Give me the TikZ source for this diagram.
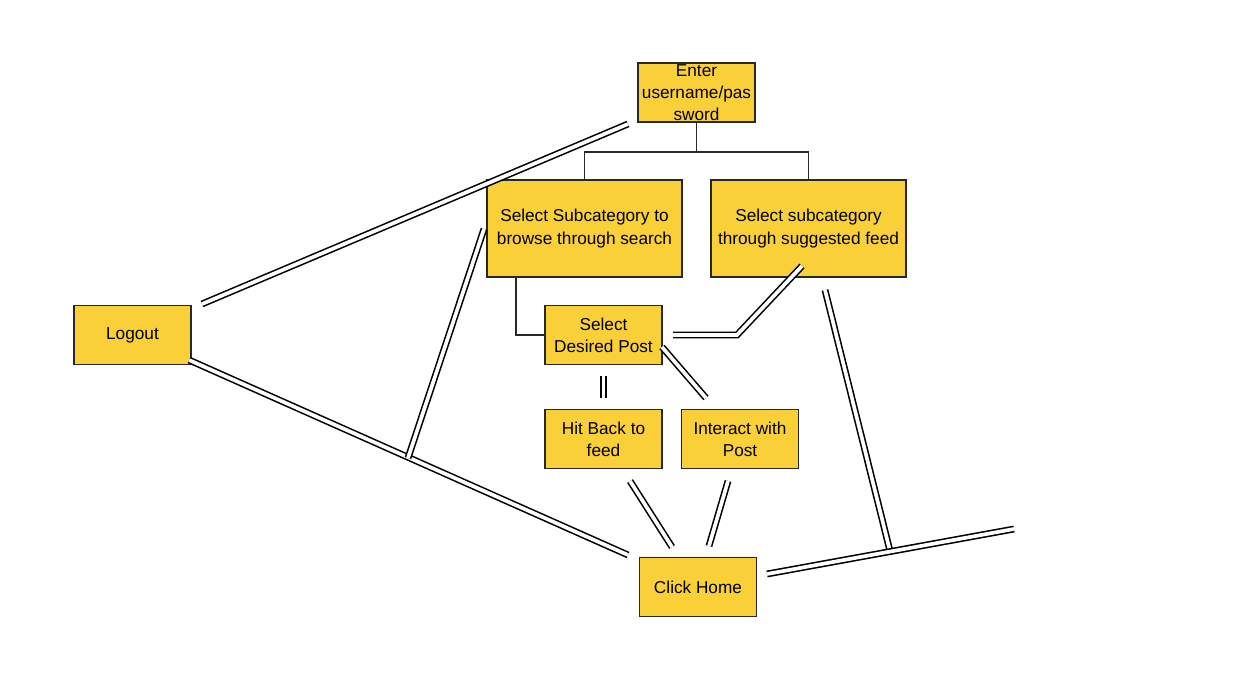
\documentclass[tikz,border=0pt]{standalone}
\usepackage{fontspec}
\setmainfont{Liberation Sans}
\definecolor{boxfill}{RGB}{249,208,56}
\definecolor{boxline}{RGB}{40,40,40}

\begin{document}
\begin{tikzpicture}[x=0.02cm, y=-0.02cm,
  font=\fontsize{9.8}{12.6}\selectfont,
  stepbox/.style={draw=boxline, fill=boxfill, line width=0.85pt,
                  align=center, inner sep=0pt},
  tree/.style={draw=boxline, line width=0.9pt},
  dbl/.style={draw=black, line width=0.9pt, double=white, double distance=2.1pt}]

% Picture size (pixel grid of the reference)
\useasboundingbox (0,0) rectangle (1245,682);

% Sizes of the boxes
\def \wS{ 117*0.02cm } % small boxes
\def \hS{  59*0.02cm }
\def \wL{ 195*0.02cm } % large boxes
\def \hL{  97*0.02cm }

% The boxes
\node[stepbox, minimum width=\wS, minimum height=\hS] (enter) at (696.5,92.5)
  {Enter\\username/pas\\sword};
\node[stepbox, minimum width=\wL, minimum height=\hL] (search) at (584.5,228.5)
  {Select Subcategory to\\browse through search};
\node[stepbox, minimum width=\wL, minimum height=\hL] (feed) at (808.5,228.5)
  {Select subcategory\\through suggested feed};
\node[stepbox, minimum width=\wS, minimum height=\hS] (logout) at (132.5,335)
  {Logout};
\node[stepbox, minimum width=\wS, minimum height=\hS] (post) at (603.5,335)
  {Select\\Desired Post};
\node[stepbox, minimum width=\wS, minimum height=\hS] (back) at (603.5,439)
  {Hit Back to\\feed};
\node[stepbox, minimum width=\wS, minimum height=\hS] (interact) at (740,439)
  {Interact with\\Post};
\node[stepbox, minimum width=\wS, minimum height=\hS] (home) at (698,587)
  {Click Home};

% The tree below the login box
\draw[tree] (enter.south) -- ++(0,29) coordinate (fork)
            (search.north) |- (fork) -| (feed.north);
\draw[tree] (search.south -| 516,0) |- (post.west);

% Free ends of the double lines
\coordinate (lgUp)   at (202,304);  \coordinate (enUp)   at (628,124);
\coordinate (lgDown) at (189,360);  \coordinate (hmLeft) at (628,555);
\coordinate (joinL)  at (408,458);  \coordinate (srLeft) at (484,229);
\coordinate (psRight) at (673,335); \coordinate (bend)   at (737,335);
\coordinate (fdLow)  at (802,266);
\coordinate (psDiag) at (662,347);  \coordinate (inTop)  at (706,398);
\coordinate (psLow)  at (603.5,376);\coordinate (bkTop)  at (603.5,398);
\coordinate (bkLow)  at (630,481);  \coordinate (hmTopL) at (672,547);
\coordinate (inLow)  at (728,481);  \coordinate (hmTopR) at (709,546);
\coordinate (fdDown) at (825,290);  \coordinate (joinR)  at (890,551);
\coordinate (hmRight) at (767,574); \coordinate (farEnd) at (1014,529);

% Draw the double lines
\draw[dbl] (lgUp) -- (enUp);
\draw[dbl] (lgDown) -- (hmLeft);
\draw[dbl] (joinL) -- (srLeft);
\draw[dbl] (psRight) -- (bend) -- (fdLow);
\draw[dbl] (psDiag) -- (inTop);
\draw[dbl] (psLow) -- (bkTop);
\draw[dbl] (bkLow) -- (hmTopL);
\draw[dbl] (inLow) -- (hmTopR);
\draw[dbl] (fdDown) -- (joinR);
\draw[dbl] (hmRight) -- (farEnd);
\end{tikzpicture}
\end{document}
